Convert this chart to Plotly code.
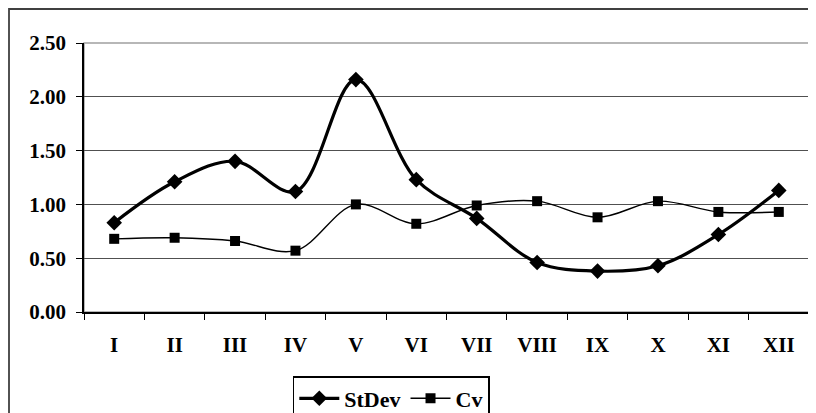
import plotly.graph_objects as go

months = ["I", "II", "III", "IV", "V", "VI", "VII", "VIII", "IX", "X", "XI", "XII"]
stdev = [0.83, 1.21, 1.40, 1.12, 2.16, 1.23, 0.87, 0.46, 0.38, 0.43, 0.72, 1.13]
cv = [0.68, 0.69, 0.66, 0.57, 1.00, 0.82, 0.99, 1.03, 0.88, 1.03, 0.93, 0.93]
yticks = [0.0, 0.5, 1.0, 1.5, 2.0, 2.5]

font = "Liberation Serif"

fig = go.Figure()
fig.add_trace(go.Scatter(
    x=months, y=stdev, name="StDev", mode="lines+markers",
    line=dict(color="black", width=3.2, shape="spline", smoothing=1.0),
    marker=dict(symbol="diamond", size=12, color="black"),
))
fig.add_trace(go.Scatter(
    x=months, y=cv, name="Cv", mode="lines+markers",
    line=dict(color="black", width=1.4, shape="spline", smoothing=1.0),
    marker=dict(symbol="square", size=10, color="black"),
))

fig.update_layout(
    width=808, height=405,
    margin=dict(l=76, r=7, t=35, b=101, autoexpand=False),
    paper_bgcolor="white", plot_bgcolor="white",
    font=dict(family=font, size=21, color="black"),
    showlegend=True,
    legend=dict(
        orientation="h", x=0.288, y=-0.238, xanchor="left", yanchor="top",
        bordercolor="black", borderwidth=1.5,
        font=dict(family=font, size=22, color="black", weight="bold"),
        itemwidth=40, tracegroupgap=0,
    ),
    xaxis=dict(
        type="category", categoryorder="array", categoryarray=months,
        showline=True, linecolor="black", linewidth=1.5,
        ticks="outside", ticklen=6, tickcolor="black", tickson="boundaries",
        tickfont=dict(family=font, size=21, color="black", weight="bold"),
        ticklabelstandoff=13,
        showgrid=False, mirror=False, range=[-0.5, 11.5], automargin=False,
    ),
    yaxis=dict(
        range=[0, 2.5], tickvals=yticks, ticktext=[f"{v:.2f}" for v in yticks],
        showline=True, linecolor="black", linewidth=1.5,
        ticks="outside", ticklen=6, tickcolor="black",
        tickfont=dict(family=font, size=21, color="black", weight="bold"),
        ticklabelstandoff=6,
        showgrid=True, gridcolor="#505050", gridwidth=1.2,
        zeroline=False, automargin=False,
    ),
    shapes=[
        dict(type="rect", xref="paper", yref="paper", x0=0, x1=1, y0=0, y1=1,
             line=dict(color="#a0a0a0", width=1.5), layer="below"),
        dict(type="rect", xref="paper", yref="paper",
             x0=-75 / 725, x1=1.05, y0=-1.2, y1=1 + 34 / 269,
             line=dict(color="#404040", width=1.8)),
    ],
)

fig.write_html("out.html")
